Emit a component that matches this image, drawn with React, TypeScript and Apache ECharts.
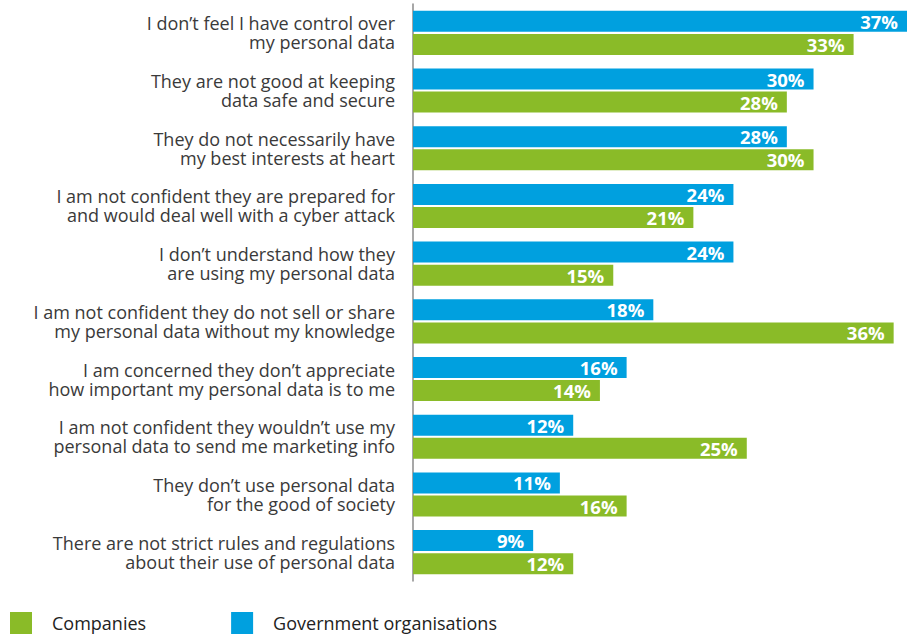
import React, { useEffect, useRef } from "react";
import * as echarts from "echarts";

const categories = [
  "I don’t feel I have control over\nmy personal data",
  "They are not good at keeping\ndata safe and secure",
  "They do not necessarily have\nmy best interests at heart",
  "I am not confident they are prepared for\nand would deal well with a cyber attack",
  "I don’t understand how they\nare using my personal data",
  "I am not confident they do not sell or share\nmy personal data without my knowledge",
  "I am concerned they don’t appreciate\nhow important my personal data is to me",
  "I am not confident they wouldn’t use my\npersonal data to send me marketing info",
  "They don’t use personal data\nfor the good of society",
  "There are not strict rules and regulations\nabout their use of personal data",
];
const government = [37, 30, 28, 24, 24, 18, 16, 12, 11, 9];
const companies = [33, 28, 30, 21, 15, 36, 14, 25, 16, 12];

const BLUE = "#00A0DF";
const GREEN = "#8ABB28";
const FONT = "'Open Sans', 'Noto Sans', sans-serif";

export default function App() {
  const ref = useRef<HTMLDivElement>(null);
  useEffect(() => {
    if (!ref.current) return;
    const chart = echarts.init(ref.current, undefined, { renderer: "svg" });
    const label = {
      show: true,
      position: "insideRight",
      distance: 9,
      formatter: "{c}%",
      color: "#fff",
      fontWeight: "bold",
      fontSize: 18.5,
      fontFamily: FONT,
    };
    chart.setOption({
      animation: false,
      grid: { left: 413, right: 9, top: 4, bottom: 56, containLabel: false },
      legend: {
        left: 5,
        top: 607,
        icon: "rect",
        itemWidth: 22,
        itemHeight: 22,
        itemGap: 85,
        data: ["Companies", "Government organisations"],
        textStyle: {
          fontFamily: FONT,
          fontSize: 18,
          color: "#222",
          padding: [0, 0, 0, 15],
        },
      },
      xAxis: {
        type: "value",
        min: 0,
        max: 37,
        show: false,
      },
      yAxis: {
        type: "category",
        inverse: true,
        data: categories,
        axisLine: { show: true, lineStyle: { color: "#8a8a8a", width: 1.5 } },
        axisTick: { show: false },
        axisLabel: {
          margin: 18,
          fontFamily: FONT,
          fontSize: 18,
          lineHeight: 19,
          color: "#3a3a3a",
          align: "right",
        },
      },
      series: [
        {
          name: "Government organisations",
          type: "bar",
          data: government,
          barWidth: 21,
          barGap: "10%",
          itemStyle: { color: BLUE },
          label,
        },
        {
          name: "Companies",
          type: "bar",
          data: companies,
          barWidth: 21,
          barGap: "10%",
          itemStyle: { color: GREEN },
          label,
        },
      ],
    });
    return () => chart.dispose();
  }, []);
  return (
    <div
      ref={ref}
      style={{ position: "fixed", left: 0, top: 0, width: 916, height: 637, background: "#fff" }}
    />
  );
}
